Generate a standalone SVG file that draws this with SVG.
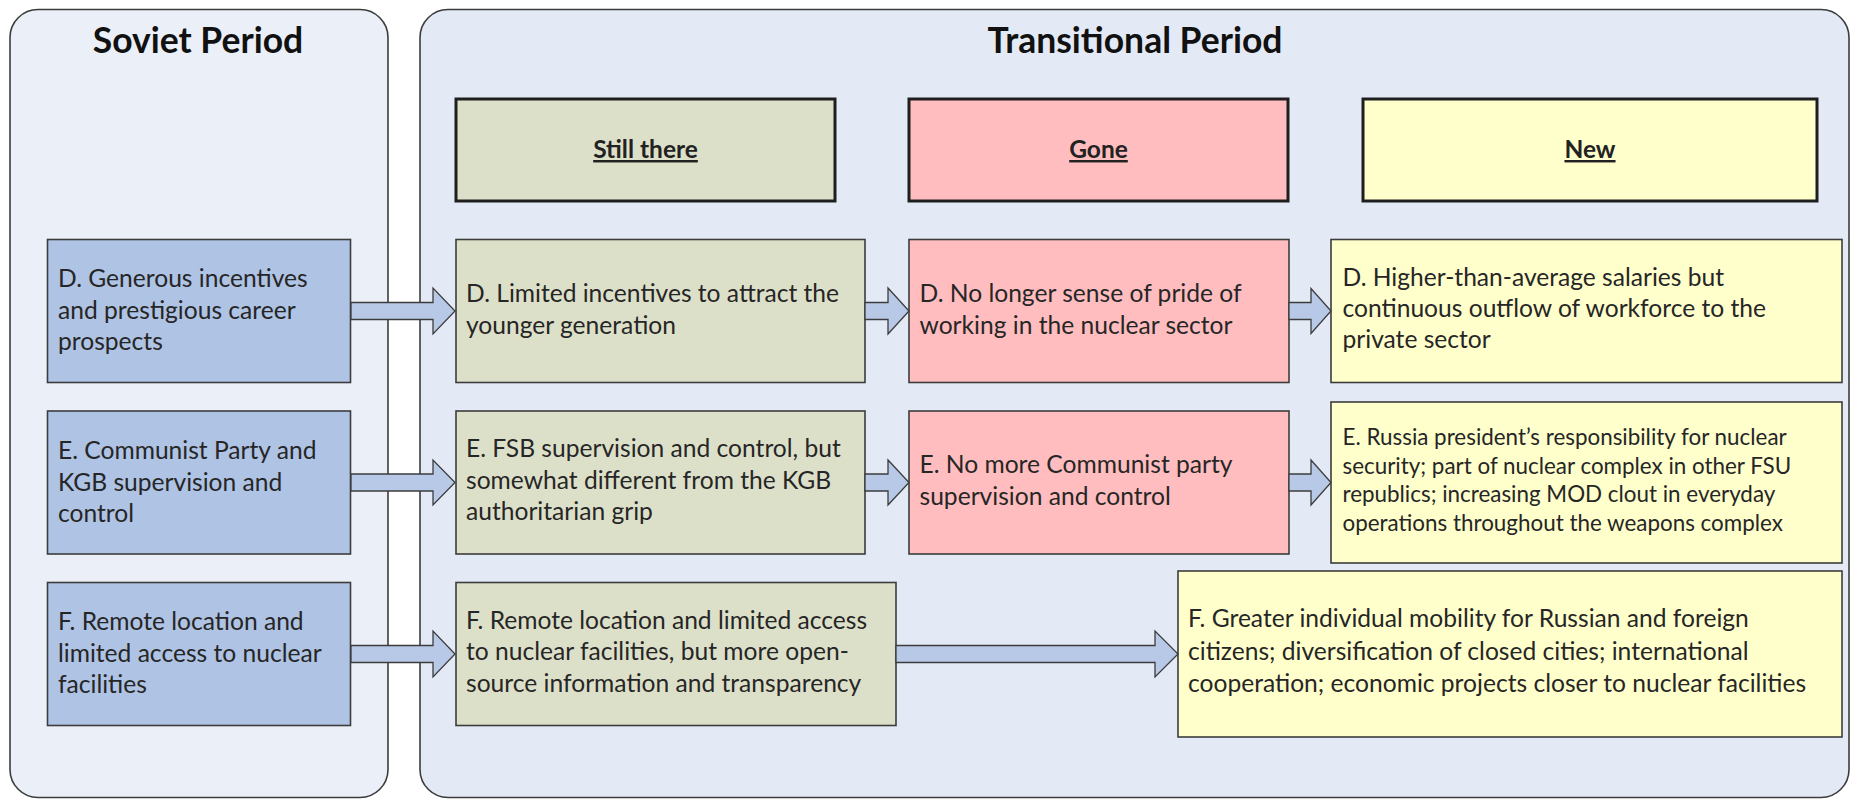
<svg xmlns="http://www.w3.org/2000/svg" width="1852" height="800" viewBox="0 0 1852 800">
<style>
.panel{stroke:#3c3c3c;stroke-width:1.6}
.hdr{stroke:#1e1e1e;stroke-width:3}
.box{stroke:#3c3c3c;stroke-width:1.6}
.sov{fill:#AFC3E4}
.still{fill:#DDE0C9}
.gone{fill:#FFBDBF}
.new{fill:#FFFFCC}
.arrow{fill:#B7C9E6;stroke:#3c3c3c;stroke-width:1.3;stroke-linejoin:miter}
.title{font-family:Lato,"Liberation Sans",sans-serif;font-weight:bold;font-size:35.5px;fill:#111;text-anchor:middle}
.htxt{font-family:Lato,"Liberation Sans",sans-serif;font-weight:bold;font-size:24.5px;fill:#222;text-anchor:middle;text-decoration:underline}
.t{font-family:Lato,"Liberation Sans",sans-serif;font-size:24.6px;fill:#262626}
.s{font-family:Lato,"Liberation Sans",sans-serif;font-size:22.4px;fill:#262626}
</style>
<rect width="1852" height="800" fill="#ffffff"/>
<g id="soviet-panel">
<rect class="panel" x="10" y="9.5" width="378" height="788" rx="28" fill="#EBF0F8"/>
<text class="title" x="198" y="53">Soviet Period</text>
</g>
<g id="transitional-panel">
<rect class="panel" x="420" y="9.5" width="1429" height="788" rx="28" fill="#E4EAF5"/>
<text class="title" x="1135" y="53">Transitional Period</text>
</g>
<g id="hdr-still">
<rect class="hdr still" x="456" y="99" width="379" height="102"/>
<text class="htxt" x="645.5" y="158">Still there</text>
</g>
<g id="hdr-gone">
<rect class="hdr gone" x="909" y="99" width="379" height="102"/>
<text class="htxt" x="1098.5" y="158">Gone</text>
</g>
<g id="hdr-new">
<rect class="hdr new" x="1363" y="99" width="454" height="102"/>
<text class="htxt" x="1590" y="158">New</text>
</g>
<g id="soviet-d">
<rect class="box sov" x="47.5" y="239.5" width="303" height="143"/>
<text class="t"><tspan x="58" y="287">D. Generous incentives</tspan><tspan x="58" y="318.5">and prestigious career</tspan><tspan x="58" y="350">prospects</tspan></text>
</g>
<g id="soviet-e">
<rect class="box sov" x="47.5" y="411" width="303" height="143"/>
<text class="t"><tspan x="58" y="459">E. Communist Party and</tspan><tspan x="58" y="490.5">KGB supervision and</tspan><tspan x="58" y="522">control</tspan></text>
</g>
<g id="soviet-f">
<rect class="box sov" x="47.5" y="582.5" width="303" height="143"/>
<text class="t"><tspan x="58" y="630">F. Remote location and</tspan><tspan x="58" y="661.5">limited access to nuclear</tspan><tspan x="58" y="693">facilities</tspan></text>
</g>
<g id="still-d">
<rect class="box still" x="456" y="239.5" width="409" height="143"/>
<text class="t"><tspan x="466" y="302">D. Limited incentives to attract the</tspan><tspan x="466" y="333.5">younger generation</tspan></text>
</g>
<g id="still-e">
<rect class="box still" x="456" y="411" width="409" height="143"/>
<text class="t"><tspan x="466" y="457">E. FSB supervision and control, but</tspan><tspan x="466" y="488.5">somewhat different from the KGB</tspan><tspan x="466" y="520">authoritarian grip</tspan></text>
</g>
<g id="still-f">
<rect class="box still" x="456" y="582.5" width="440" height="143"/>
<text class="t"><tspan x="466" y="628.5">F. Remote location and limited access</tspan><tspan x="466" y="660">to nuclear facilities, but more open-</tspan><tspan x="466" y="691.5">source information and transparency</tspan></text>
</g>
<g id="gone-d">
<rect class="box gone" x="909" y="239.5" width="380" height="143"/>
<text class="t"><tspan x="919.5" y="302">D. No longer sense of pride of</tspan><tspan x="919.5" y="333.5">working in the nuclear sector</tspan></text>
</g>
<g id="gone-e">
<rect class="box gone" x="909" y="411" width="380" height="143"/>
<text class="t"><tspan x="919.5" y="473">E. No more Communist party</tspan><tspan x="919.5" y="504.5">supervision and control</tspan></text>
</g>
<g id="new-d">
<rect class="box new" x="1331" y="239.5" width="511" height="143"/>
<text class="t"><tspan x="1342.5" y="286">D. Higher-than-average salaries but</tspan><tspan x="1342.5" y="317">continuous outflow of workforce to the</tspan><tspan x="1342.5" y="348">private sector</tspan></text>
</g>
<g id="new-e">
<rect class="box new" x="1331" y="402" width="511" height="161"/>
<text class="s"><tspan x="1342.5" y="445">E. Russia president’s responsibility for nuclear</tspan><tspan x="1342.5" y="473.5">security; part of nuclear complex in other FSU</tspan><tspan x="1342.5" y="502">republics; increasing MOD clout in everyday</tspan><tspan x="1342.5" y="530.5">operations throughout the weapons complex</tspan></text>
</g>
<g id="new-f">
<rect class="box new" x="1178" y="571" width="664" height="166"/>
<text class="t"><tspan x="1188" y="627">F. Greater individual mobility for Russian and foreign</tspan><tspan x="1188" y="659.5">citizens; diversification of closed cities; international</tspan><tspan x="1188" y="692">cooperation; economic projects closer to nuclear facilities</tspan></text>
</g>
<g id="connectors">
<polygon class="arrow" points="351,302.5 433,302.5 433,288 455,311 433,334 433,319.5 351,319.5"/>
<polygon class="arrow" points="351,474 433,474 433,460 455,482.5 433,505 433,491 351,491"/>
<polygon class="arrow" points="351,645.5 433,645.5 433,631 455,654 433,677 433,662.5 351,662.5"/>
<polygon class="arrow" points="865,302.5 888,302.5 888,288 909,311 888,334 888,319.5 865,319.5"/>
<polygon class="arrow" points="865,474 888,474 888,460 909,482.5 888,505 888,491 865,491"/>
<polygon class="arrow" points="1289,302.5 1311,302.5 1311,288.5 1331,311 1311,333.5 1311,319.5 1289,319.5"/>
<polygon class="arrow" points="1289,474 1311,474 1311,460 1331,482.5 1311,505 1311,491 1289,491"/>
<polygon class="arrow" points="896,645.5 1155,645.5 1155,631 1178,654 1155,677 1155,662.5 896,662.5"/>
</g>
</svg>
